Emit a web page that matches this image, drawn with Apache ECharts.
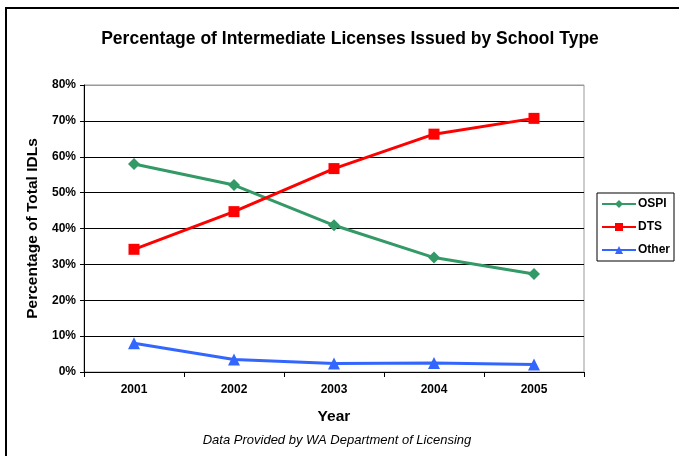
<!DOCTYPE html>
<html><head><meta charset="utf-8">
<script src="https://cdn.jsdelivr.net/npm/echarts@6/dist/echarts.min.js"></script>
<style>html,body{margin:0;padding:0;background:#fff}#c{width:679px;height:456px}</style>
</head><body><div id="c"></div>
<script>
const years = ['2001','2002','2003','2004','2005'];
const ospi = [58.0, 52.1, 40.9, 31.9, 27.3];
const dts = [34.2, 44.7, 56.7, 66.3, 70.7];
const other = [8.0, 3.5, 2.4, 2.5, 2.1];
const chart = echarts.init(document.getElementById('c'));
const font = 'Liberation Sans, Arial, sans-serif';
chart.setOption({
  animation: false,
  backgroundColor: '#fff',
  title: [{
    text: 'Percentage of Intermediate Licenses Issued by School Type',
    left: 345, top: 25, textAlign: 'center',
    textStyle: {fontFamily: font, fontWeight: 'bold', fontSize: 17.5, color: '#000'}
  }, {
    text: 'Data Provided by WA Department of Licensing',
    left: 332, top: 429, textAlign: 'center',
    textStyle: {fontFamily: font, fontStyle: 'italic', fontWeight: 'normal', fontSize: 13, color: '#000'}
  }],
  graphic: [{
    type: 'rect', shape: {x: 6, y: 8, width: 720, height: 500},
    style: {fill: 'none', stroke: '#000', lineWidth: 2}, silent: true
  }],
  grid: {left: 84, top: 85, right: 95, bottom: 84, show: true, borderColor: '#999', borderWidth: 1, containLabel: false},
  legend: {
    orient: 'vertical', left: 597, top: 193,
    borderColor: '#000', borderWidth: 1, padding: [5, 4, 5, 4],
    itemWidth: 34, itemHeight: 10, itemGap: 11,
    textStyle: {fontFamily: font, fontWeight: 'bold', fontSize: 12, color: '#000', padding: [0, 0, 0, -3]},
    data: ['OSPI', 'DTS', 'Other']
  },
  xAxis: {
    type: 'category', data: years, boundaryGap: true,
    name: 'Year', nameLocation: 'middle', nameGap: 37,
    nameTextStyle: {fontFamily: font, fontWeight: 'bold', fontSize: 15.5, color: '#000'},
    axisLine: {lineStyle: {color: '#000', width: 1}},
    axisTick: {show: true, length: 5, lineStyle: {color: '#000'}},
    axisLabel: {fontFamily: font, fontWeight: 'bold', fontSize: 12, color: '#000', margin: 12}
  },
  yAxis: {
    type: 'value', min: 0, max: 80, interval: 10,
    name: 'Percentage of Total IDLs', nameLocation: 'middle', nameGap: 37, nameRotate: 90,
    nameTextStyle: {fontFamily: font, fontWeight: 'bold', fontSize: 15.5, color: '#000'},
    axisLine: {show: true, lineStyle: {color: '#000', width: 1}},
    axisTick: {show: true, length: 4, lineStyle: {color: '#000'}},
    axisLabel: {fontFamily: font, fontWeight: 'bold', fontSize: 12, color: '#000', margin: 8, formatter: '{value}%'},
    splitLine: {show: true, lineStyle: {color: ['#000','#000','#000','#000','#000','#000','#000','#000','#999'], width: 1}}
  },
  series: [{
    name: 'OSPI', type: 'line', data: ospi, color: '#339966',
    symbol: 'diamond', symbolSize: 12, lineStyle: {width: 3}
  }, {
    name: 'DTS', type: 'line', data: dts, color: '#FF0000',
    symbol: 'rect', symbolSize: 11, lineStyle: {width: 3}
  }, {
    name: 'Other', type: 'line', data: other, color: '#3366FF',
    symbol: 'triangle', symbolSize: 12, lineStyle: {width: 3}
  }]
});
</script></body></html>
